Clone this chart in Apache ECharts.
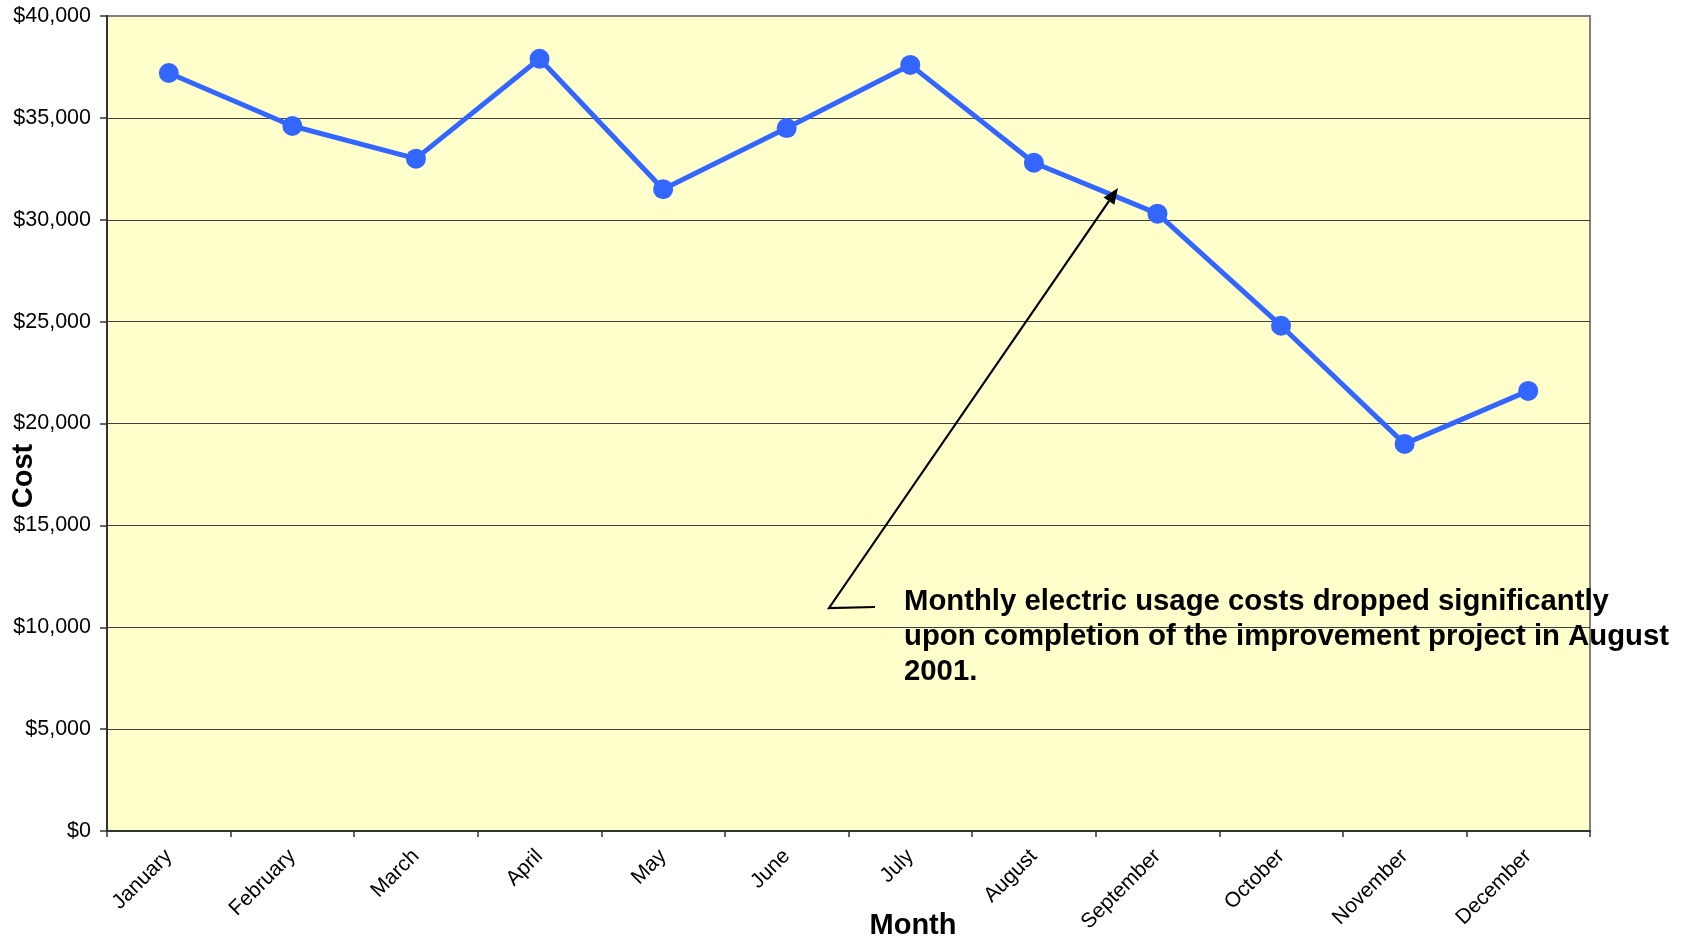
<!DOCTYPE html>
<html>
<head>
<meta charset="utf-8">
<title>Monthly Electric Cost</title>
<script src="https://cdn.jsdelivr.net/npm/echarts@6/dist/echarts.min.js"></script>
<style>
  html, body { margin: 0; padding: 0; background: #ffffff; }
  #chart { width: 1688px; height: 937px; }
</style>
</head>
<body>
<div id="chart"></div>
<script>
// Monthly electric usage cost
const months = ['January', 'February', 'March', 'April', 'May', 'June',
                'July', 'August', 'September', 'October', 'November', 'December'];
const costs = [37200, 34600, 33000, 37900, 31500, 34500,
               37600, 32800, 30300, 24800, 19000, 21600];
const yTicks = { min: 0, max: 40000, interval: 5000 };
const xTitle = 'Month';
const yTitle = 'Cost';
const noteLines = [
  'Monthly electric usage costs dropped significantly',
  'upon completion of the improvement project in August',
  '2001.'
];

const FONT = "'Liberation Sans', Arial, sans-serif";

const chart = echarts.init(document.getElementById('chart'), null, { renderer: 'canvas' });

function money(v) {
  return '$' + v.toLocaleString('en-US');
}

chart.setOption({
  animation: false,
  backgroundColor: '#ffffff',
  textStyle: { fontFamily: FONT },
  grid: {
    left: 107, right: 98, top: 16, bottom: 106,
    containLabel: false,
    outerBoundsMode: 'none',
    show: true,
    backgroundColor: '#FFFFCC',
    borderColor: '#808080',
    borderWidth: 2
  },
  xAxis: {
    type: 'category',
    data: months,
    boundaryGap: true,
    axisLine: { show: true, lineStyle: { color: '#333333', width: 2 } },
    axisTick: { show: true, alignWithLabel: false, length: 6, lineStyle: { color: '#333333', width: 1.5 } },
    axisLabel: {
      rotate: 45,
      margin: 22,
      fontFamily: FONT,
      fontSize: 21,
      color: '#000'
    },
    splitLine: { show: false }
  },
  yAxis: {
    type: 'value',
    min: yTicks.min,
    max: yTicks.max,
    interval: yTicks.interval,
    axisLine: { show: true, lineStyle: { color: '#333333', width: 2 } },
    axisTick: { show: true, inside: false, length: 7, lineStyle: { color: '#333333', width: 1.5 } },
    axisLabel: {
      margin: 16,
      fontFamily: FONT,
      fontSize: 21.5,
      color: '#000',
      formatter: money
    },
    splitLine: {
      show: true,
      showMinLine: false,
      showMaxLine: false,
      lineStyle: { color: '#404040', width: 1.2 }
    }
  },
  series: [{
    type: 'line',
    data: costs,
    symbol: 'circle',
    symbolSize: 20,
    lineStyle: { color: '#3366FF', width: 5 },
    itemStyle: { color: '#3366FF' },
    z: 3
  }]
});

// Callout: arrow from the note to the line between August and September
const tail = [829, 608];
const tip = [1118, 188];
const ang = Math.atan2(tip[1] - tail[1], tip[0] - tail[0]);
const headLen = 16, headHalf = 6.5;
const base = [tip[0] - headLen * Math.cos(ang), tip[1] - headLen * Math.sin(ang)];
const head = [
  tip,
  [base[0] + headHalf * Math.sin(ang), base[1] - headHalf * Math.cos(ang)],
  [base[0] - headHalf * Math.sin(ang), base[1] + headHalf * Math.cos(ang)]
];

const titleStyle = {
  fontFamily: FONT,
  fontSize: 29,
  fontWeight: 'bold',
  fill: '#000',
  align: 'center',
  verticalAlign: 'middle'
};

chart.setOption({
  graphic: [
    // axis titles
    {
      type: 'text',
      x: 913, y: 926,
      style: Object.assign({ text: xTitle }, titleStyle)
    },
    {
      type: 'text',
      x: 24, y: 476,
      rotation: Math.PI / 2,
      style: Object.assign({ text: yTitle }, titleStyle)
    },
    // callout arrow
    {
      type: 'polyline',
      z: 10,
      shape: { points: [[875, 607], tail, base] },
      style: { stroke: '#000', lineWidth: 2.2, fill: null }
    },
    {
      type: 'polygon',
      z: 10,
      shape: { points: head },
      style: { fill: '#000' }
    },
    {
      type: 'text',
      z: 10,
      left: 904,
      top: 584,
      style: {
        text: noteLines.join('\n'),
        fontFamily: FONT,
        fontSize: 29.3,
        fontWeight: 'bold',
        lineHeight: 35,
        fill: '#000'
      }
    }
  ]
});
</script>
</body>
</html>
